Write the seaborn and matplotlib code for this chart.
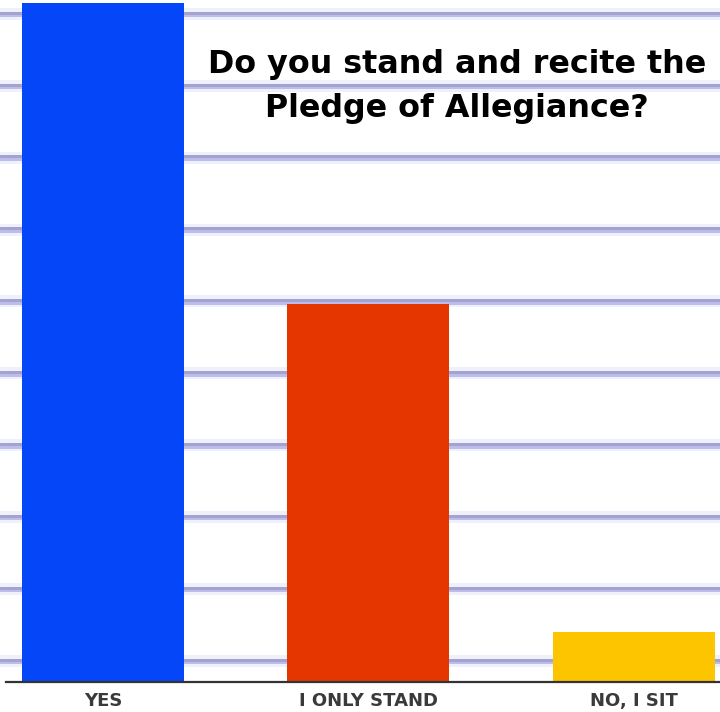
import matplotlib
matplotlib.use("Agg")
import matplotlib.pyplot as plt
import seaborn as sns
import numpy as np
import pandas as pd

categories = ["YES", "I ONLY STAND", "NO, I SIT"]
values = [61.0, 34.0, 4.5]
bar_colors = ["#0546f8", "#e63600", "#fcc500"]
title_lines = ["Do you stand and recite the", "Pledge of Allegiance?"]

sns.set_theme(style="white")
plt.rcParams["font.family"] = ["DejaVu Sans"]

W, H = 720, 712
fig = plt.figure(figsize=(W / 100, H / 100), dpi=100)
fig.patch.set_facecolor("white")

# background ruled lines
bg = fig.add_axes([0, 0, 1, 1], zorder=0)
bg.set_xlim(0, 1)
bg.set_ylim(0.291, 10.193)
bg.axis("off")
px = (10.193 - 0.291) / H
pt = 0.72
for v in range(1, 11):
    bg.axhline(v, color="#eef0fb", lw=12 * pt, zorder=1)
    bg.axhline(v - 1.2 * px, color="#bcbcee", lw=3 * pt, zorder=2)
    bg.axhline(v + 1.2 * px, color="#a3a3cc", lw=3 * pt, zorder=3)

# main chart axes
ax = fig.add_axes([6 / W, 30 / H, 714 / W, 682 / H], zorder=2)
ax.set_facecolor("none")
df = pd.DataFrame({"cat": categories, "val": values})
sns.barplot(data=df, x="cat", y="val", hue="cat", palette=bar_colors,
            saturation=1, width=0.61, legend=False, ax=ax,
            edgecolor="none")
ax.set_xlim(-0.365, 2.324)
ax.set_ylim(0, 61.0 * 682 / 679)
ax.set_xlabel("")
ax.set_ylabel("")
ax.set_yticks([])
for s in ["left", "right", "top"]:
    ax.spines[s].set_visible(False)
ax.spines["bottom"].set_color("#333333")
ax.spines["bottom"].set_linewidth(1.6)
ax.tick_params(axis="x", length=0, pad=7, labelsize=13, labelcolor="#3a3a3a")
for lab in ax.get_xticklabels():
    lab.set_fontweight("bold")

# title
tkw = dict(ha="center", va="baseline", fontweight="bold",
           family=["DejaVu Sans"], color="black", zorder=5)
t1 = fig.text(457 / W, 1 - 73 / H, title_lines[0], fontsize=24, **tkw)
t2 = fig.text(457 / W, 1 - 117 / H, title_lines[1], fontsize=24, **tkw)
fig.canvas.draw()
r = fig.canvas.get_renderer()
w1 = t1.get_window_extent(r).width
fs = 24 * 499 / w1
t1.set_fontsize(fs)
t2.set_fontsize(fs)

fig.savefig("out.png", dpi=100)
